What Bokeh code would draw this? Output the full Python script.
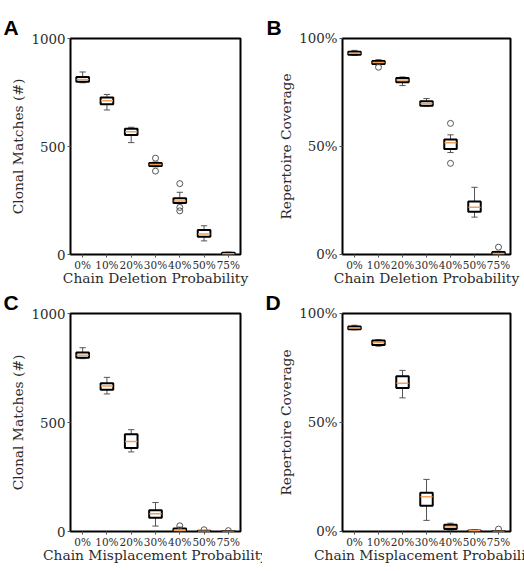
from bokeh.plotting import figure
from bokeh.models import FactorRange, Range1d, FixedTicker, ColumnDataSource
from bokeh.transform import dodge
from bokeh.layouts import gridplot
from bokeh.embed import file_html
from bokeh.resources import INLINE

cats = ["0%", "10%", "20%", "30%", "40%", "50%", "75%"]

# Panel A: Clonal matches vs chain deletion probability
A_q1 = [800, 696, 553, 410, 238, 82, 0]
A_med = [810, 712, 568, 417, 248, 95, 3]
A_q3 = [822, 727, 582, 424, 260, 113, 8]
A_wlo = [795, 669, 518, 406, 235, 63, 0]
A_whi = [845, 741, 589, 428, 288, 133, 11]
A_out_x = ["30%", "30%", "40%", "40%", "40%"]
A_out_y = [446, 386, 328, 218, 202]

# Panel B: Repertoire coverage vs chain deletion probability
B_q1 = [0.925, 0.882, 0.798, 0.689, 0.489, 0.198, 0.0]
B_med = [0.932, 0.889, 0.808, 0.699, 0.517, 0.219, 0.005]
B_q3 = [0.939, 0.896, 0.817, 0.709, 0.532, 0.245, 0.012]
B_wlo = [0.922, 0.879, 0.782, 0.686, 0.472, 0.173, 0.0]
B_whi = [0.945, 0.902, 0.822, 0.722, 0.554, 0.311, 0.015]
B_out_x = ["10%", "40%", "40%", "75%"]
B_out_y = [0.867, 0.607, 0.422, 0.034]

# Panel C: Clonal matches vs chain misplacement probability
C_q1 = [797, 650, 383, 63, 0, 0, 0]
C_med = [809, 668, 413, 81, 6, 1, 0]
C_q3 = [821, 680, 446, 98, 14, 3, 1]
C_wlo = [793, 631, 365, 25, 0, 0, 0]
C_whi = [843, 707, 467, 133, 20, 4, 1]
C_out_x = ["40%", "50%", "75%"]
C_out_y = [26, 8, 4]

# Panel D: Repertoire coverage vs chain misplacement probability
D_q1 = [0.928, 0.856, 0.658, 0.118, 0.012, 0.001, 0.0]
D_med = [0.934, 0.867, 0.680, 0.159, 0.021, 0.003, 0.0]
D_q3 = [0.940, 0.876, 0.712, 0.178, 0.031, 0.005, 0.001]
D_wlo = [0.925, 0.850, 0.613, 0.051, 0.005, 0.0, 0.0]
D_whi = [0.946, 0.880, 0.739, 0.239, 0.038, 0.007, 0.001]
D_out_x = ["75%"]
D_out_y = [0.011]

SERIF = "DejaVu Serif"
TXT = "#2b2b2b"


def panel(letter, q1, med, q3, wlo, whi, ox, oy, ymax, ticks, labels,
          ylabel, xlabel, w, h, bl, br, bt, bb):
    p = figure(x_range=FactorRange(*cats), y_range=Range1d(0, ymax),
               width=w, height=h, output_backend="svg", toolbar_location=None,
               min_border_left=bl, min_border_right=br,
               min_border_top=bt, min_border_bottom=bb, title=letter)
    p.title.text_font = "Liberation Sans"
    p.title.text_font_style = "bold"
    p.title.text_font_size = "21px"
    p.title.text_color = "black"
    p.title.align = "left"
    p.title.offset = -(bl - 3)
    p.title.standoff = 0
    p.title.text_line_height = 1.0

    p.xgrid.visible = False
    p.ygrid.visible = False
    p.outline_line_color = "black"
    p.outline_line_width = 2
    p.outline_line_alpha = 1

    src = ColumnDataSource(dict(x=cats, q1=q1, med=med, q3=q3, wlo=wlo, whi=whi))
    wc = "#555555"
    # whiskers
    p.segment(x0="x", y0="q3", x1="x", y1="whi", source=src, line_color=wc, line_width=1)
    p.segment(x0="x", y0="wlo", x1="x", y1="q1", source=src, line_color=wc, line_width=1)
    # caps
    p.segment(x0=dodge("x", -0.13, range=p.x_range), y0="whi",
              x1=dodge("x", 0.13, range=p.x_range), y1="whi",
              source=src, line_color=wc, line_width=1)
    p.segment(x0=dodge("x", -0.13, range=p.x_range), y0="wlo",
              x1=dodge("x", 0.13, range=p.x_range), y1="wlo",
              source=src, line_color=wc, line_width=1)
    # boxes
    p.vbar(x="x", bottom="q1", top="q3", width=0.52, source=src,
           fill_color="white", line_color="black", line_width=2)
    # medians
    p.segment(x0=dodge("x", -0.25, range=p.x_range), y0="med",
              x1=dodge("x", 0.25, range=p.x_range), y1="med",
              source=src, line_color="#f3a05a", line_width=1.5)
    # outliers
    p.scatter(x=ox, y=oy, marker="circle", size=6, fill_color=None,
              line_color="#555555", line_width=1)

    p.yaxis.ticker = FixedTicker(ticks=ticks)
    p.yaxis.major_label_overrides = {t: l for t, l in zip(ticks, labels)}
    for ax in (p.xaxis[0], p.yaxis[0]):
        ax.axis_line_color = None
        ax.major_tick_in = 0
        ax.major_tick_out = 3
        ax.major_tick_line_color = "#555555"
        ax.minor_tick_line_color = None
        ax.major_label_text_font = SERIF
        ax.major_label_text_color = TXT
        ax.axis_label_text_font = SERIF
        ax.axis_label_text_font_style = "normal"
        ax.axis_label_text_color = TXT
        ax.axis_label_text_font_size = "13.8px"
        ax.axis_label_text_line_height = 1.0
        ax.major_label_text_line_height = 1.0
        ax.major_label_standoff = 2
        ax.axis_label_standoff = 2
    p.xaxis.major_label_text_font_size = "10.5px"
    p.yaxis.major_label_text_font_size = "13.4px"
    p.xaxis.axis_label_standoff = -4
    p.xaxis.major_label_standoff = 1
    p.xaxis.axis_label = xlabel
    p.yaxis.axis_label = ylabel
    return p


pA = panel("A", A_q1, A_med, A_q3, A_wlo, A_whi, A_out_x, A_out_y, 1000,
           [0, 500, 1000], ["0", "500", "1000"], "Clonal Matches (#)",
           "Chain Deletion Probability", 262, 288, 70, 22, 38, 33)
pB = panel("B", B_q1, B_med, B_q3, B_wlo, B_whi, B_out_x, B_out_y, 1.0,
           [0, 0.5, 1.0], ["0%", "50%", "100%"], "Repertoire Coverage",
           "Chain Deletion Probability", 262, 288, 79, 12, 38, 33)
pC = panel("C", C_q1, C_med, C_q3, C_wlo, C_whi, C_out_x, C_out_y, 1000,
           [0, 500, 1000], ["0", "500", "1000"], "Clonal Matches (#)",
           "Chain Misplacement Probability", 262, 283, 70, 22, 25, 40)
pD = panel("D", D_q1, D_med, D_q3, D_wlo, D_whi, D_out_x, D_out_y, 1.0,
           [0, 0.5, 1.0], ["0%", "50%", "100%"], "Repertoire Coverage",
           "Chain Misplacement Probability", 262, 283, 80, 14, 25, 40)

grid = gridplot([[pA, pB], [pC, pD]], toolbar_location=None)
open("out.html", "w").write(file_html(grid, INLINE))
